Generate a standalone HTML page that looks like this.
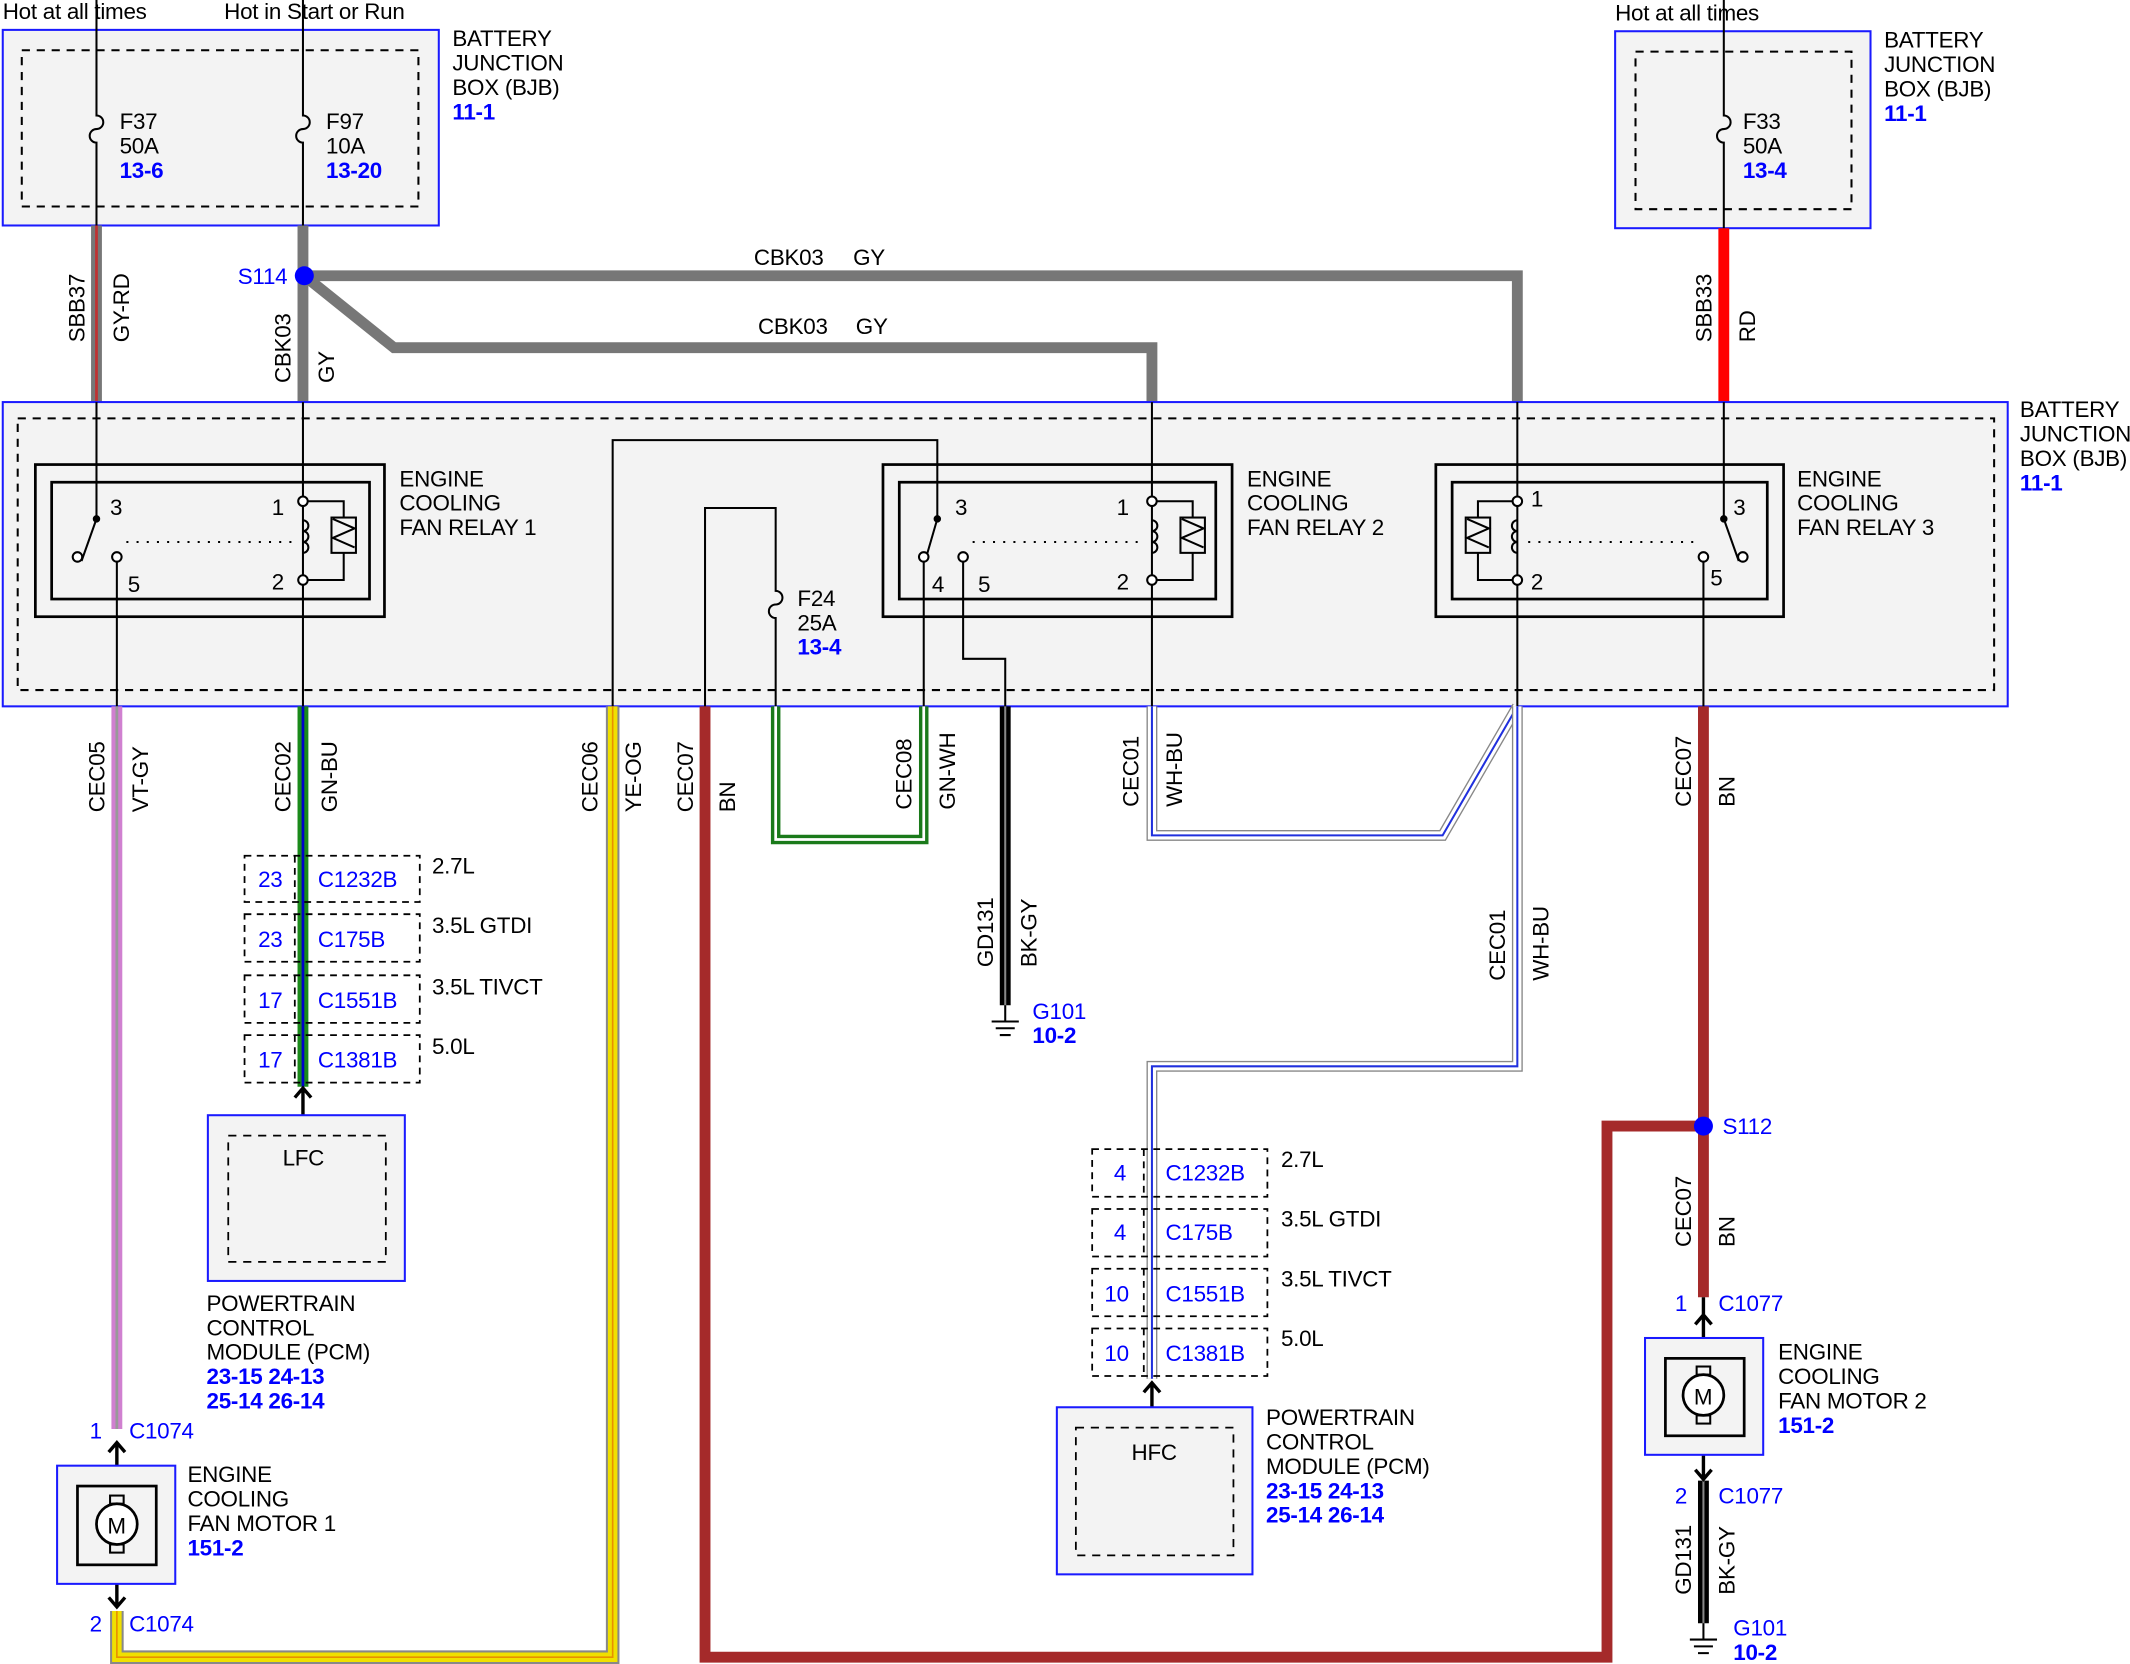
<!DOCTYPE html>
<html><head><meta charset="utf-8"><style>
html,body{margin:0;padding:0;background:#fff}
svg{display:block}
text{font-family:"Liberation Sans","DejaVu Sans",sans-serif;font-size:16.5px;fill:#000;letter-spacing:-0.2px}
.b{fill:#0000ff}
.bb{fill:#0000ff;font-weight:bold}
</style></head><body>
<svg width="2130" height="1664" viewBox="0 0 1568 1225" xmlns="http://www.w3.org/2000/svg">
<rect width="1568" height="1225" fill="#fff"/>
<rect x="2" y="22" width="321" height="144" fill="#f3f3f3" stroke="#1a1aff" stroke-width="1.5"/>
<rect x="16" y="37" width="292" height="115" fill="none" stroke="#000" stroke-width="1.5" stroke-dasharray="6,5"/>
<rect x="1189" y="23" width="188" height="145" fill="#f3f3f3" stroke="#1a1aff" stroke-width="1.5"/>
<rect x="1204" y="38" width="159" height="116" fill="none" stroke="#000" stroke-width="1.5" stroke-dasharray="6,5"/>
<text x="2" y="14">Hot at all times</text>
<text x="165" y="14">Hot in Start or Run</text>
<text x="1189" y="15">Hot at all times</text>
<text x="333" y="34">BATTERY</text><text x="333" y="52">JUNCTION</text><text x="333" y="70">BOX (BJB)</text><text x="333" y="88" class="bb">11-1</text>
<text x="1387" y="35">BATTERY</text><text x="1387" y="53">JUNCTION</text><text x="1387" y="71">BOX (BJB)</text><text x="1387" y="89" class="bb">11-1</text>
<g fill="none" stroke="#000" stroke-width="1.5">
<path d="M71 0 V85 a5 5 0 0 1 0 10 a5 5 0 0 0 0 10 V166"/>
<path d="M223 0 V85 a5 5 0 0 1 0 10 a5 5 0 0 0 0 10 V166"/>
<path d="M1269 0 V85 a5 5 0 0 1 0 10 a5 5 0 0 0 0 10 V168"/>
</g>
<text x="88" y="95">F37</text><text x="88" y="113">50A</text><text x="88" y="131" class="bb">13-6</text>
<text x="240" y="95">F97</text><text x="240" y="113">10A</text><text x="240" y="131" class="bb">13-20</text>
<text x="1283" y="95">F33</text><text x="1283" y="113">50A</text><text x="1283" y="131" class="bb">13-4</text>
<g fill="none" stroke-linejoin="miter">
<path d="M71 166 V296" stroke="#777" stroke-width="8"/>
<path d="M71 166 V296" stroke="#c03030" stroke-width="2"/>
<path d="M223 166 V296" stroke="#777" stroke-width="8"/>
<path d="M224 203 H1117 V296" stroke="#777" stroke-width="8"/>
<path d="M224 203 L290 256 H848 V296" stroke="#777" stroke-width="8"/>
<path d="M1269 168 V296" stroke="#f00" stroke-width="8"/>
</g>
<circle cx="224" cy="203" r="7" fill="#0000ff"/>
<text x="175" y="209" class="b">S114</text>
<text x="555" y="195">CBK03</text><text x="628" y="195">GY</text>
<text x="558" y="246">CBK03</text><text x="630" y="246">GY</text>
<text transform="translate(62,252) rotate(-90)">SBB37</text>
<text transform="translate(95,252) rotate(-90)">GY-RD</text>
<text transform="translate(214,282) rotate(-90)">CBK03</text>
<text transform="translate(246,282) rotate(-90)">GY</text>
<text transform="translate(1260,252) rotate(-90)">SBB33</text>
<text transform="translate(1292,252) rotate(-90)">RD</text>
<rect x="2" y="296" width="1476" height="224" fill="#f3f3f3" stroke="#1a1aff" stroke-width="1.5"/>
<rect x="13" y="308" width="1455" height="200" fill="none" stroke="#000" stroke-width="1.5" stroke-dasharray="6,5"/>
<text x="1487" y="307">BATTERY</text><text x="1487" y="325">JUNCTION</text><text x="1487" y="343">BOX (BJB)</text><text x="1487" y="361" class="bb">11-1</text>
<g fill="none" stroke="#000" stroke-width="1.5">
<path d="M71 296 V382"/>
<path d="M223 296 V520"/>
<path d="M86 410 V520"/>
<path d="M848 296 V520"/>
<path d="M1117 296 V520"/>
<path d="M1269 296 V382"/>
<path d="M1254 410 V520"/>
<path d="M451 520 V324 H690 V382"/>
<path d="M680 410 V520"/>
<path d="M709 410 V485 H740 V520"/>
<path d="M519 520 V374 H571 V435 a5 5 0 0 1 0 10 a5 5 0 0 0 0 10 V520"/>
</g>
<text x="587" y="446">F24</text><text x="587" y="464">25A</text><text x="587" y="482" class="bb">13-4</text>
<g fill="none" stroke="#000" stroke-width="2">
<rect x="26" y="342" width="257" height="112"/><rect x="38" y="355" width="234" height="86"/>
<rect x="650" y="342" width="257" height="112"/><rect x="662" y="355" width="233" height="86"/>
<rect x="1057" y="342" width="256" height="112"/><rect x="1069" y="355" width="232" height="86"/>
</g>
<g fill="none" stroke="#000" stroke-width="1.5">
<circle cx="71" cy="382" r="2" fill="#000"/><path d="M71 382 L60 413"/><circle cx="57" cy="410" r="3.5" fill="#fff"/><circle cx="86" cy="410" r="3.5" fill="#fff"/>
<path d="M93 399 H215" stroke-dasharray="1.5,6"/>
<circle cx="223" cy="369" r="3.5" fill="#fff"/><circle cx="223" cy="427" r="3.5" fill="#fff"/>
<path d="M223 383 a4 4 0 0 1 0 8 a4 4 0 0 1 0 8 a4 4 0 0 1 0 8"/>
<path d="M226 369 H253 V381 M253 407 V427 H226"/><rect x="244" y="381" width="18" height="26"/><path d="M245 382 L261 389 L245 396 L261 403"/>
<circle cx="690" cy="382" r="2" fill="#000"/><path d="M690 382 L681 413"/><circle cx="680" cy="410" r="3.5" fill="#fff"/><circle cx="709" cy="410" r="3.5" fill="#fff"/>
<path d="M716 399 H840" stroke-dasharray="1.5,6"/>
<circle cx="848" cy="369" r="3.5" fill="#fff"/><circle cx="848" cy="427" r="3.5" fill="#fff"/>
<path d="M848 383 a4 4 0 0 1 0 8 a4 4 0 0 1 0 8 a4 4 0 0 1 0 8"/>
<path d="M851 369 H878 V381 M878 407 V427 H851"/><rect x="869" y="381" width="18" height="26"/><path d="M870 382 L886 389 L870 396 L886 403"/>
<circle cx="1269" cy="382" r="2" fill="#000"/><path d="M1269 382 L1280 413"/><circle cx="1283" cy="410" r="3.5" fill="#fff"/><circle cx="1254" cy="410" r="3.5" fill="#fff"/>
<path d="M1125 399 H1247" stroke-dasharray="1.5,6"/>
<circle cx="1117" cy="369" r="3.5" fill="#fff"/><circle cx="1117" cy="427" r="3.5" fill="#fff"/>
<path d="M1117 383 a4 4 0 0 0 0 8 a4 4 0 0 0 0 8 a4 4 0 0 0 0 8"/>
<path d="M1114 369 H1088 V381 M1088 407 V427 H1114"/><rect x="1079" y="381" width="18" height="26"/><path d="M1080 382 L1096 389 L1080 396 L1096 403"/>
</g>
<text x="81" y="379">3</text><text x="94" y="436">5</text><text x="200" y="379">1</text><text x="200" y="434">2</text>
<text x="703" y="379">3</text><text x="686" y="436">4</text><text x="720" y="436">5</text><text x="822" y="379">1</text><text x="822" y="434">2</text>
<text x="1127" y="373">1</text><text x="1127" y="434">2</text><text x="1276" y="379">3</text><text x="1259" y="431">5</text>
<text x="294" y="358">ENGINE</text><text x="294" y="376">COOLING</text><text x="294" y="394">FAN RELAY 1</text>
<text x="918" y="358">ENGINE</text><text x="918" y="376">COOLING</text><text x="918" y="394">FAN RELAY 2</text>
<text x="1323" y="358">ENGINE</text><text x="1323" y="376">COOLING</text><text x="1323" y="394">FAN RELAY 3</text>
<g fill="none" stroke-linejoin="miter">
<path d="M86 520 V1052" stroke="#d080d0" stroke-width="8"/>
<path d="M86 520 V1052" stroke="#999" stroke-width="2"/>
<path d="M223 520 V800" stroke="#1a8a1a" stroke-width="8"/>
<path d="M223 520 V800" stroke="#0000cc" stroke-width="2"/>
<path d="M86 1186 V1220 H451 V520" stroke="#888" stroke-width="10"/>
<path d="M86 1186 V1220 H451 V520" stroke="#f0e000" stroke-width="7"/>
<path d="M86 1186 V1220 H451 V520" stroke="#e89000" stroke-width="1.2"/>
<path d="M519 520 V1220 H1183 V829 H1254" stroke="#a52a2a" stroke-width="8"/>
<path d="M1254 520 V955" stroke="#a52a2a" stroke-width="8"/>
<path d="M571 520 V618 H680 V520" stroke="#1a7a1a" stroke-width="7"/>
<path d="M571 520 V618 H680 V520" stroke="#fff" stroke-width="2"/>
<path d="M740 520 V740" stroke="#000" stroke-width="8"/>
<path d="M740 520 V740" stroke="#888" stroke-width="1.5"/>
<path d="M848 520 V615 H1062 L1117 520" stroke="#888" stroke-width="8"/>
<path d="M848 520 V615 H1062 L1117 520" stroke="#fff" stroke-width="6"/>
<path d="M848 520 V615 H1062 L1117 520" stroke="#2030dd" stroke-width="1.5"/>
<path d="M1117 520 V785 H848 V1015" stroke="#888" stroke-width="8"/>
<path d="M1117 520 V785 H848 V1015" stroke="#fff" stroke-width="6"/>
<path d="M1117 520 V785 H848 V1015" stroke="#2030dd" stroke-width="1.5"/>
<path d="M1254 1090 V1195" stroke="#000" stroke-width="8"/>
<path d="M1254 1090 V1195" stroke="#888" stroke-width="1.5"/>
</g>
<circle cx="1254" cy="829" r="7" fill="#0000ff"/>
<text x="1268" y="835" class="b">S112</text>
<text transform="translate(77,598) rotate(-90)">CEC05</text><text transform="translate(109,598) rotate(-90)">VT-GY</text>
<text transform="translate(214,598) rotate(-90)">CEC02</text><text transform="translate(248,598) rotate(-90)">GN-BU</text>
<text transform="translate(440,598) rotate(-90)">CEC06</text><text transform="translate(472,598) rotate(-90)">YE-OG</text>
<text transform="translate(510,598) rotate(-90)">CEC07</text><text transform="translate(541,598) rotate(-90)">BN</text>
<text transform="translate(671,596) rotate(-90)">CEC08</text><text transform="translate(703,596) rotate(-90)">GN-WH</text>
<text transform="translate(731,712) rotate(-90)">GD131</text><text transform="translate(763,712) rotate(-90)">BK-GY</text>
<text transform="translate(838,594) rotate(-90)">CEC01</text><text transform="translate(870,594) rotate(-90)">WH-BU</text>
<text transform="translate(1108,722) rotate(-90)">CEC01</text><text transform="translate(1140,722) rotate(-90)">WH-BU</text>
<text transform="translate(1245,594) rotate(-90)">CEC07</text><text transform="translate(1277,594) rotate(-90)">BN</text>
<text transform="translate(1245,918) rotate(-90)">CEC07</text><text transform="translate(1277,918) rotate(-90)">BN</text>
<text transform="translate(1245,1174) rotate(-90)">GD131</text><text transform="translate(1277,1174) rotate(-90)">BK-GY</text>
<g stroke="#000" stroke-width="1.5" fill="none">
<path d="M740 740 V752 M730 752 H750 M733 757 H747 M736 762 H744"/>
<path d="M1254 1195 V1207 M1244 1207 H1264 M1247 1212 H1261 M1250 1217 H1258"/>
</g>
<text x="760" y="750" class="b">G101</text><text x="760" y="768" class="bb">10-2</text>
<text x="1276" y="1204" class="b">G101</text><text x="1276" y="1222" class="bb">10-2</text>
<g fill="none" stroke="#000" stroke-width="1.3" stroke-dasharray="5,4">
<rect x="180" y="630" width="129" height="34"/><rect x="180" y="673" width="129" height="35"/><rect x="180" y="718" width="129" height="35"/><rect x="180" y="762" width="129" height="35"/>
<path d="M217 630 V664 M217 673 V708 M217 718 V753 M217 762 V797"/>
<rect x="804" y="846" width="129" height="35"/><rect x="804" y="890" width="129" height="35"/><rect x="804" y="934" width="129" height="35"/><rect x="804" y="978" width="129" height="35"/>
<path d="M842 846 V881 M842 890 V925 M842 934 V969 M842 978 V1013"/>
</g>
<text x="190" y="653" class="b">23</text><text x="234" y="653" class="b">C1232B</text><text x="318" y="643">2.7L</text>
<text x="190" y="697" class="b">23</text><text x="234" y="697" class="b">C175B</text><text x="318" y="687">3.5L GTDI</text>
<text x="190" y="742" class="b">17</text><text x="234" y="742" class="b">C1551B</text><text x="318" y="732">3.5L TIVCT</text>
<text x="190" y="786" class="b">17</text><text x="234" y="786" class="b">C1381B</text><text x="318" y="776">5.0L</text>
<text x="820" y="869" class="b">4</text><text x="858" y="869" class="b">C1232B</text><text x="943" y="859">2.7L</text>
<text x="820" y="913" class="b">4</text><text x="858" y="913" class="b">C175B</text><text x="943" y="903">3.5L GTDI</text>
<text x="813" y="958" class="b">10</text><text x="858" y="958" class="b">C1551B</text><text x="943" y="947">3.5L TIVCT</text>
<text x="813" y="1002" class="b">10</text><text x="858" y="1002" class="b">C1381B</text><text x="943" y="991">5.0L</text>
<g fill="none" stroke="#000" stroke-width="2.5">
<path d="M217 808 L223 801 L229 808 M223 801 V821"/>
<path d="M842 1025 L848 1018 L854 1025 M848 1018 V1036"/>
<path d="M80 1069 L86 1062 L92 1069 M86 1062 V1079"/>
<path d="M80 1176 L86 1183 L92 1176 M86 1166 V1183"/>
<path d="M1248 975 L1254 968 L1260 975 M1254 955 V985"/>
<path d="M1248 1082 L1254 1089 L1260 1082 M1254 1071 V1089"/>
</g>
<rect x="153" y="821" width="145" height="122" fill="#f3f3f3" stroke="#1a1aff" stroke-width="1.5"/>
<rect x="168" y="836" width="116" height="93" fill="none" stroke="#000" stroke-width="1.3" stroke-dasharray="6,5"/>
<text x="208" y="858">LFC</text>
<text x="152" y="965">POWERTRAIN</text><text x="152" y="983">CONTROL</text><text x="152" y="1001">MODULE (PCM)</text>
<text x="152" y="1019" class="bb">23-15 24-13</text><text x="152" y="1037" class="bb">25-14 26-14</text>
<rect x="778" y="1036" width="144" height="123" fill="#f3f3f3" stroke="#1a1aff" stroke-width="1.5"/>
<rect x="792" y="1051" width="116" height="94" fill="none" stroke="#000" stroke-width="1.3" stroke-dasharray="6,5"/>
<text x="833" y="1075">HFC</text>
<text x="932" y="1049">POWERTRAIN</text><text x="932" y="1067">CONTROL</text><text x="932" y="1085">MODULE (PCM)</text>
<text x="932" y="1103" class="bb">23-15 24-13</text><text x="932" y="1121" class="bb">25-14 26-14</text>
<rect x="42" y="1079" width="87" height="87" fill="#f3f3f3" stroke="#1a1aff" stroke-width="1.5"/>
<rect x="57" y="1094" width="58" height="58" fill="none" stroke="#000" stroke-width="2"/>
<rect x="81" y="1101" width="10" height="6" fill="none" stroke="#000" stroke-width="1.5"/>
<rect x="81" y="1137" width="10" height="6" fill="none" stroke="#000" stroke-width="1.5"/>
<circle cx="86" cy="1122" r="15" fill="#fff" stroke="#000" stroke-width="2"/>
<text x="79" y="1129">M</text>
<text x="66" y="1059" class="b">1</text><text x="95" y="1059" class="b">C1074</text>
<text x="66" y="1201" class="b">2</text><text x="95" y="1201" class="b">C1074</text>
<text x="138" y="1091">ENGINE</text><text x="138" y="1109">COOLING</text><text x="138" y="1127">FAN MOTOR 1</text><text x="138" y="1145" class="bb">151-2</text>
<rect x="1211" y="985" width="87" height="86" fill="#f3f3f3" stroke="#1a1aff" stroke-width="1.5"/>
<rect x="1226" y="1000" width="58" height="57" fill="none" stroke="#000" stroke-width="2"/>
<rect x="1249" y="1006" width="10" height="6" fill="none" stroke="#000" stroke-width="1.5"/>
<rect x="1249" y="1042" width="10" height="6" fill="none" stroke="#000" stroke-width="1.5"/>
<circle cx="1254" cy="1027" r="15" fill="#fff" stroke="#000" stroke-width="2"/>
<text x="1247" y="1034">M</text>
<text x="1233" y="965" class="b">1</text><text x="1265" y="965" class="b">C1077</text>
<text x="1233" y="1107" class="b">2</text><text x="1265" y="1107" class="b">C1077</text>
<text x="1309" y="1001">ENGINE</text><text x="1309" y="1019">COOLING</text><text x="1309" y="1037">FAN MOTOR 2</text><text x="1309" y="1055" class="bb">151-2</text>
</svg>
</body></html>
